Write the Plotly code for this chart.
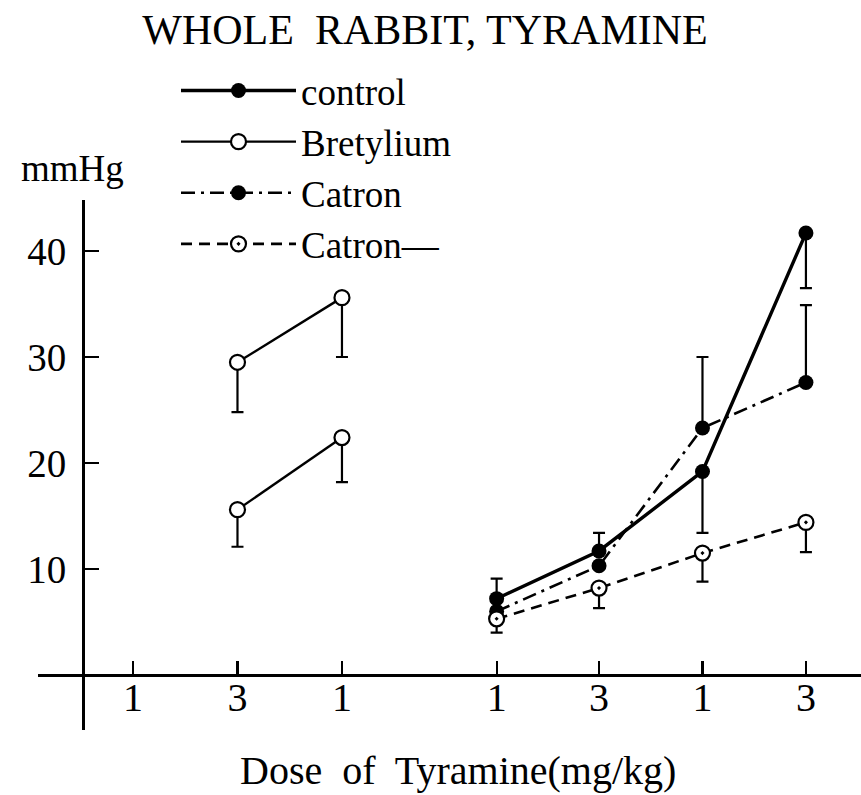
import plotly.graph_objects as go

# ---- data ----
dose_labels = ["1", "3", "1", "1", "3", "1", "3"]
dose_slots = [1, 2, 3, 4.48, 5.46, 6.45, 7.44]   # x placement of each dose tick
y_ticks = [10, 20, 30, 40]

# right-hand dose group (last four doses)
control_y = [7.2, 11.7, 19.2, 41.7]
control_err_plus = [1.9, 1.7, 0, 0]
control_err_minus = [0, 0, 5.8, 5.2]

catron_y = [6.0, 10.3, 23.3, 27.6]
catron_err_plus = [0, 0, 6.7, 7.3]
catron_err_minus = [0, 0, 0, 0]

catron2_y = [5.3, 8.2, 11.5, 14.4]
catron2_err_plus = [0, 0, 0, 0]
catron2_err_minus = [1.3, 1.9, 2.7, 2.8]

# left-hand dose group (doses "3" and "1"), two Bretylium curves
bret_upper_y = [29.5, 35.6]
bret_upper_err_minus = [4.7, 5.6]
bret_lower_y = [15.6, 22.4]
bret_lower_err_minus = [3.5, 4.2]

FONT = "Liberation Serif"
BLACK = "black"

W, H = 861, 795
PL, PR, PT, PB = 38, 861, 200, 730        # plot frame in screen pixels


def px_x(p):
    return (p - PL) / (PR - PL)


def px_y(p):
    return (PB - p) / (PB - PT)


right_x = dose_slots[3:]
left_x = dose_slots[1:3]

fig = go.Figure()

fig.add_trace(go.Scatter(
    x=right_x, y=control_y, name="control", mode="lines+markers",
    line=dict(color=BLACK, width=3.4),
    marker=dict(symbol="circle", size=15, color=BLACK),
    error_y=dict(type="data", symmetric=False, array=control_err_plus,
                 arrayminus=control_err_minus, color=BLACK, thickness=2.2, width=6),
))

fig.add_trace(go.Scatter(
    x=left_x + [None] + left_x,
    y=bret_upper_y + [None] + bret_lower_y,
    name="Bretylium", mode="lines+markers", connectgaps=False,
    line=dict(color=BLACK, width=2.4),
    marker=dict(symbol="circle", size=15, color="white", line=dict(color=BLACK, width=2.2)),
    error_y=dict(type="data", symmetric=False, array=[0, 0, 0, 0, 0],
                 arrayminus=bret_upper_err_minus + [0] + bret_lower_err_minus,
                 color=BLACK, thickness=2.2, width=6),
))

fig.add_trace(go.Scatter(
    x=right_x, y=catron_y, name="Catron", mode="lines+markers",
    line=dict(color=BLACK, width=2.6, dash="14px,6px,3px,6px"),
    marker=dict(symbol="circle", size=15, color=BLACK),
    error_y=dict(type="data", symmetric=False, array=catron_err_plus,
                 arrayminus=catron_err_minus, color=BLACK, thickness=2.2, width=6),
))

fig.add_trace(go.Scatter(
    x=right_x, y=catron2_y, name="Catron—", mode="lines+markers",
    line=dict(color=BLACK, width=2.6, dash="11px,7px"),
    marker=dict(symbol="circle-dot", size=15, color="white", line=dict(color=BLACK, width=2.2)),
    error_y=dict(type="data", symmetric=False, array=catron2_err_plus,
                 arrayminus=catron2_err_minus, color=BLACK, thickness=2.2, width=6),
))

fig.update_layout(
    width=W, height=H,
    margin=dict(l=PL, r=W - PR, t=PT, b=H - PB),
    paper_bgcolor="white", plot_bgcolor="white",
    font=dict(family=FONT, color=BLACK, size=38),
    showlegend=True,
    hovermode=False,
    title=dict(text="WHOLE  RABBIT, TYRAMINE", x=425 / W, xref="container",
               xanchor="center", y=1 - 29 / H, yref="container", yanchor="middle",
               font=dict(family=FONT, size=42, color=BLACK)),
    legend=dict(x=px_x(176), y=px_y(60), xanchor="left", yanchor="top",
                font=dict(family=FONT, size=37, color=BLACK), bgcolor="rgba(0,0,0,0)",
                itemwidth=115, tracegroupgap=0),
    xaxis=dict(range=[0.091, 7.967], anchor="free", position=px_y(675),
               showgrid=False, zeroline=False, showline=True, linecolor=BLACK, linewidth=2.5,
               ticks="inside", ticklen=13, tickwidth=2.2, tickcolor=BLACK,
               tickvals=dose_slots, ticktext=dose_labels, ticklabelstandoff=-14,
               tickfont=dict(family=FONT, size=40, color=BLACK)),
    yaxis=dict(range=[-5.19, 44.81], anchor="free", position=px_x(83),
               showgrid=False, zeroline=False, showline=True, linecolor=BLACK, linewidth=2.5,
               ticks="inside", ticklen=14, tickwidth=2.5, tickcolor=BLACK,
               tickvals=y_ticks, ticklabelstandoff=8,
               tickfont=dict(family=FONT, size=39, color=BLACK)),
    annotations=[
        dict(text="mmHg", xref="paper", yref="paper", x=px_x(72), y=px_y(168),
             xanchor="center", yanchor="middle", showarrow=False,
             font=dict(family=FONT, size=37, color=BLACK)),
        dict(text="Dose  of  Tyramine(mg/kg)", xref="paper", yref="paper",
             x=px_x(458), y=px_y(770), xanchor="center", yanchor="middle",
             showarrow=False, font=dict(family=FONT, size=40, color=BLACK)),
    ],
)

# remove the default 8px page margin so the 861x795 figure fills the window exactly
fig.write_html("out.html",
               config={"displayModeBar": False, "staticPlot": True},
               post_script="document.body.style.margin='0';document.body.style.padding='0';")
